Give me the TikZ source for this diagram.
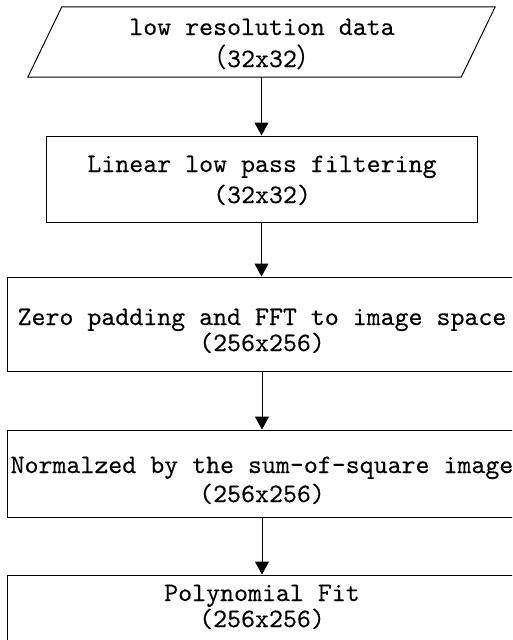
\documentclass[tikz,border=0pt]{standalone}
\usepackage{fontspec}
\setmonofont{lmmono10-regular.otf}[FakeBold=0.2]
\newfontfamily\cjk{Noto Sans CJK SC}
\usetikzlibrary{arrows.meta}
\begin{document}
\begin{tikzpicture}[x=1pt,y=-1pt,
  stage/.style={draw, rectangle, inner sep=0pt, line width=1pt},
  hidden/.style={rectangle, inner sep=0pt},
  outline/.style={draw, line width=1pt},
  txt/.style={anchor=base, inner sep=0pt, font=\fontsize{26.6}{28}\ttfamily},
  flow/.style={-{Triangle[width=14pt,length=13pt]}, line width=1pt}]
  \useasboundingbox (0,0) rectangle (512,640);
  \clip (0,0) rectangle (512,640);

  % input data (parallelogram drawn around an invisible anchor box)
  \node[hidden, minimum width=433pt, minimum height=70pt] (data) at (261.5,42) {};
  \path[outline] ([xshift=-17pt]data.south west) -- ([xshift=-17pt]data.south east)
     -- ([xshift=17pt]data.north east) -- ([xshift=17pt]data.north west) -- cycle;
  \node[txt] (d1) at (262,35) {low resolution data};
  \node[txt] (d2) at (262,67) {{\cjk （}32x32{\cjk ）}};

  % processing stages
  \node[stage, minimum width=431pt, minimum height=86pt] (lp) at (261.5,179) {};
  \node[txt] (l1) at (262,172) {Linear low pass filtering};
  \node[txt] (l2) at (262,203) {(32x32)};

  \node[stage, minimum width=510pt, minimum height=94pt] (zp) at (262,324) {};
  \node[txt] (z1) at (262,325) {Zero padding and FFT to image space};
  \node[txt] (z2) at (262,351) {(256x256)};

  \node[stage, minimum width=510pt, minimum height=87pt] (nm) at (262,473.5) {};
  \node[txt] (n1) at (262,473) {Normalzed by the sum-of-square image};
  \node[txt] (n2) at (262,502) {(256x256)};

  \node[stage, minimum width=510pt, minimum height=87pt] (pf) at (262,618.5) {};
  \node[txt] (p1) at (262,601) {Polynomial Fit};
  \node[txt] (p2) at (262,627) {(256x256)};

  % connectors
  \draw[flow] (data.south -| lp.north) -- (lp.north);
  \draw[flow] (lp.south) -- (lp.south |- zp.north);
  \draw[flow] (zp.south) -- (nm.north);
  \draw[flow] (nm.south) -- (pf.north);
\end{tikzpicture}
\end{document}
